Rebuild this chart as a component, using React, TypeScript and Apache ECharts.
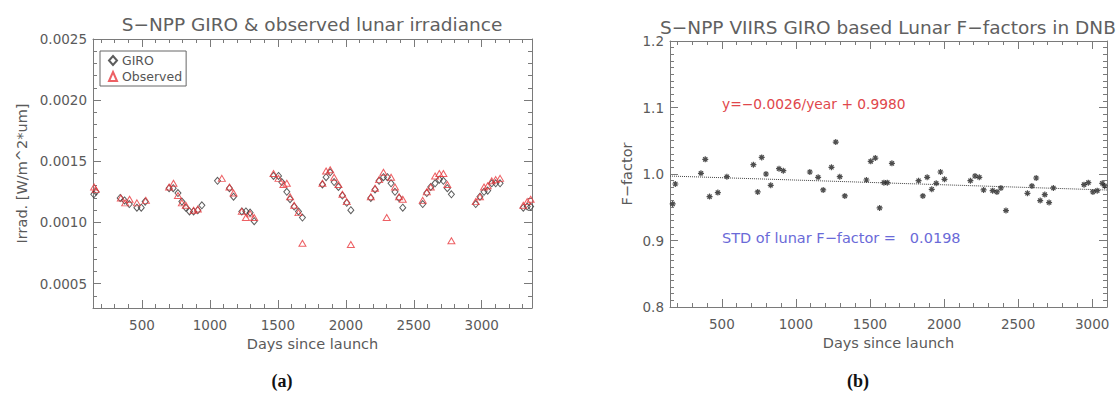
import React, { useEffect, useRef } from 'react';
import * as echarts from 'echarts';

// ---------- Data: panel (a) ----------
const giroDays = [146, 162, 340, 372, 407, 463, 495, 524, 700, 730, 765, 794, 823, 850, 880, 911, 941,
  1056, 1144, 1174, 1235, 1265, 1296, 1326, 1468, 1505, 1529, 1566, 1590, 1620, 1652, 1681,
  1828, 1855, 1885, 1914, 1946, 1975, 2007, 2037, 2184, 2215, 2245, 2277, 2306, 2333, 2362, 2392, 2419,
  2566, 2596, 2625, 2657, 2688, 2718, 2747, 2777, 2956, 2987, 3017, 3044, 3074, 3103, 3135, 3306, 3335, 3360];
const giroIrr = [0.00123, 0.00125, 0.00120, 0.00118, 0.00115, 0.00112, 0.00112, 0.00117, 0.00128, 0.00128, 0.00124, 0.00117, 0.00112, 0.00109, 0.00109, 0.00110, 0.00114,
  0.00134, 0.00128, 0.00121, 0.00109, 0.00109, 0.00108, 0.00101, 0.00138, 0.00138, 0.00133, 0.00125, 0.00119, 0.00113, 0.00109, 0.00104,
  0.00131, 0.00137, 0.00141, 0.00133, 0.00129, 0.00122, 0.00116, 0.00110, 0.00120, 0.00127, 0.00134, 0.00137, 0.00137, 0.00132, 0.00125, 0.00120, 0.00112,
  0.00115, 0.00124, 0.00129, 0.00132, 0.00135, 0.00134, 0.00128, 0.00123, 0.00115, 0.00121, 0.00125, 0.00126, 0.00132, 0.00132, 0.00132, 0.00112, 0.00113, 0.00113];
const obsDays = [148, 160, 345, 377, 409, 463, 529, 700, 732, 765, 794, 823, 880, 911,
  1088, 1144, 1174, 1235, 1265, 1296, 1326, 1468, 1505, 1541, 1566, 1590, 1620, 1652, 1681,
  1828, 1855, 1885, 1914, 1946, 1975, 2007, 2037, 2184, 2215, 2245, 2277, 2301, 2333, 2362, 2392, 2419,
  2566, 2596, 2625, 2657, 2688, 2718, 2747, 2777, 2956, 2987, 3017, 3044, 3074, 3103, 3135, 3306, 3335, 3360];
const obsIrr = [0.00129, 0.00127, 0.00120, 0.00116, 0.00119, 0.00116, 0.00118, 0.00129, 0.00132, 0.00122, 0.00116, 0.00114, 0.00110, 0.00111,
  0.00136, 0.00129, 0.00124, 0.00109, 0.00104, 0.00107, 0.00104, 0.00140, 0.00136, 0.00131, 0.00132, 0.00121, 0.00114, 0.00108, 0.00083,
  0.00132, 0.00142, 0.00143, 0.00137, 0.00131, 0.00123, 0.00117, 0.00082, 0.00121, 0.00128, 0.00135, 0.00141, 0.00104, 0.00137, 0.00129, 0.00121, 0.00119,
  0.00118, 0.00125, 0.00129, 0.00138, 0.00140, 0.00140, 0.00131, 0.00085, 0.00117, 0.00121, 0.00129, 0.00130, 0.00134, 0.00135, 0.00136, 0.00114, 0.00117, 0.00119];

// ---------- Data: panel (b) ----------
const fDays = [168, 186, 359, 388, 417, 473, 534, 713, 742, 769, 798, 830, 886, 915, 1094, 1150, 1184, 1240, 1269, 1296, 1330,
  1476, 1505, 1536, 1565, 1594, 1617, 1648, 1828, 1857, 1886, 1917, 1947, 1976, 2003, 2178, 2209, 2238, 2267, 2328, 2357, 2384, 2418,
  2563, 2593, 2622, 2649, 2680, 2709, 2738, 2945, 2974, 3005, 3034, 3068, 3084];
const fFactor = [0.955, 0.985, 1.001, 1.022, 0.966, 0.972, 0.996, 1.014, 0.973, 1.025, 1.000, 0.983, 1.008, 1.005, 1.003, 0.995, 0.976, 1.010, 1.048, 0.996, 0.967,
  0.991, 1.019, 1.024, 0.949, 0.987, 0.987, 1.016, 0.990, 0.967, 0.995, 0.977, 0.986, 1.003, 0.992, 0.990, 0.997, 0.995, 0.976, 0.975, 0.973, 0.979, 0.945,
  0.971, 0.982, 0.994, 0.960, 0.969, 0.957, 0.979, 0.984, 0.987, 0.973, 0.975, 0.986, 0.982];
const trendSlopePerYear = -0.0026;
const trendIntercept = 0.998;
const stdFFactor = 0.0198;

// ---------- Ticks ----------
const dayTicks = [500, 1000, 1500, 2000, 2500, 3000];
const irrTicks = [0.0005, 0.0010, 0.0015, 0.0020, 0.0025];
const fTicks = [0.8, 0.9, 1.0, 1.1, 1.2];
const dayMinor: number[] = [];
for (let v = 200; v <= 3300; v += 100) if (v % 500 !== 0) dayMinor.push(v);
const irrMinor: number[] = [];
for (let i = 4; i <= 24; i++) if (i % 5 !== 0) irrMinor.push(i / 10000);
const fMinor: number[] = [];
for (let i = 81; i < 120; i++) if (i % 10 !== 0) fMinor.push(i / 100);

const AX = '#7a7a7a';
const TXT = '#5a5a5a';
const FONT = '"DejaVu Sans", sans-serif';

function axisSet(dim: 'x' | 'y', grid: number, min: number, max: number, major: number[], minor: number[],
  fmt: (v: number) => string, name: string, nameGap: number) {
  const base: any = { type: 'value', gridIndex: grid, min, max, splitLine: { show: false } };
  const p1 = dim === 'x' ? 'bottom' : 'left';
  const p2 = dim === 'x' ? 'top' : 'right';
  const line = { show: true, onZero: false, lineStyle: { color: AX, width: 1 } };
  const noLine = { show: false, onZero: false };
  const majT = { show: true, inside: true, length: 8, customValues: major, lineStyle: { color: AX } };
  const minT = { show: true, inside: true, length: 4, customValues: minor, lineStyle: { color: AX } };
  return [
    {
      ...base, position: p1, axisLine: line, axisTick: majT,
      axisLabel: { show: true, customValues: major, formatter: fmt, margin: dim === 'x' ? 10 : 6, color: TXT, fontSize: 13.5, fontFamily: FONT },
      name, nameLocation: 'middle', nameGap,
      nameTextStyle: { color: TXT, fontSize: 14.5, fontFamily: FONT },
    },
    { ...base, position: p1, axisLine: noLine, axisTick: minT, axisLabel: { show: false } },
    { ...base, position: p2, axisLine: line, axisTick: majT, axisLabel: { show: false } },
    { ...base, position: p2, axisLine: noLine, axisTick: minT, axisLabel: { show: false } },
  ];
}

const ASTERISK = 'path://M0,5L10,5M5,0L5,10M1.5,1.5L8.5,8.5M8.5,1.5L1.5,8.5';

export default function App() {
  const ref = useRef<HTMLDivElement>(null);
  useEffect(() => {
    if (!ref.current) return;
    const chart = echarts.init(ref.current, undefined, { renderer: 'svg' });
    const xMinA = 140, xMaxA = 3370, xMinB = 150, xMaxB = 3100;
    const txt = (x: number, y: number, text: string, font: string, fill: string, align = 'center') => ({
      type: 'text', x, y,
      style: { text, font, fill, textAlign: align, textVerticalAlign: 'middle', align, verticalAlign: 'middle' },
    });
    const option: any = {
      animation: false,
      backgroundColor: '#fff',
      grid: [
        { left: 93, top: 39, width: 439, height: 269 },
        { left: 670, top: 41, width: 437, height: 266 },
      ],
      xAxis: [
        ...axisSet('x', 0, xMinA, xMaxA, dayTicks, dayMinor, (v) => String(v), 'Days since launch', 28),
        ...axisSet('x', 1, xMinB, xMaxB, dayTicks, dayMinor, (v) => String(v), 'Days since launch', 26),
      ],
      yAxis: [
        ...axisSet('y', 0, 0.0003, 0.0025, irrTicks, irrMinor, (v) => v.toFixed(4), 'Irrad. [W/m^2*um]', 64),
        ...axisSet('y', 1, 0.8, 1.2, fTicks, fMinor, (v) => v.toFixed(1), 'F\u2212factor', 36),
      ],
      legend: {
        data: ['GIRO', 'Observed'],
        orient: 'vertical', left: 100, top: 51,
        itemGap: 3, itemWidth: 8, itemHeight: 9,
        padding: [3, 4, 3, 8],
        borderColor: '#666', borderWidth: 1,
        textStyle: { color: '#555', fontSize: 12.5, fontFamily: FONT, padding: [0, 0, 0, 0] },
      },
      graphic: [
        txt(312, 24, 'S\u2212NPP GIRO & observed lunar irradiance', `18.5px ${FONT}`, '#606060'),
        txt(888, 27, 'S\u2212NPP VIIRS GIRO based Lunar F\u2212factors in DNB', `18.5px ${FONT}`, '#606060'),
        txt(722, 104, `y=\u2212${Math.abs(trendSlopePerYear).toFixed(4)}/year + ${trendIntercept.toFixed(4)}`, `13.8px ${FONT}`, '#e0474c', 'left'),
        txt(722, 238, `STD of lunar F\u2212factor =   ${stdFFactor.toFixed(4)}`, `14.5px ${FONT}`, '#6a6ad8', 'left'),
        txt(282, 381, '(a)', `bold 18px "Liberation Serif", serif`, '#111'),
        txt(858, 381, '(b)', `bold 18px "Liberation Serif", serif`, '#111'),
      ],
      series: [
        {
          name: 'GIRO', type: 'scatter', xAxisIndex: 0, yAxisIndex: 0,
          symbol: 'diamond', symbolSize: [6, 7],
          itemStyle: { color: 'transparent', borderColor: '#333', borderWidth: 1 },
          data: giroDays.map((d, i) => [d, giroIrr[i]]),
        },
        {
          name: 'Observed', type: 'scatter', xAxisIndex: 0, yAxisIndex: 0,
          symbol: 'triangle', symbolSize: [7, 6],
          itemStyle: { color: 'transparent', borderColor: '#e8383d', borderWidth: 1 },
          data: obsDays.map((d, i) => [d, obsIrr[i]]),
        },
        {
          name: 'trend', type: 'line', xAxisIndex: 4, yAxisIndex: 4,
          symbol: 'none', silent: true,
          lineStyle: { type: 'dotted', color: '#444', width: 1 },
          data: [xMinB, xMaxB].map((d) => [d, trendIntercept + trendSlopePerYear * d / 365]),
        },
        {
          name: 'F-factor', type: 'scatter', xAxisIndex: 4, yAxisIndex: 4,
          symbol: ASTERISK, symbolSize: 6,
          itemStyle: { color: 'transparent', borderColor: '#222', borderWidth: 1.2 },
          data: fDays.map((d, i) => [d, fFactor[i]]),
        },
      ],
    };
    chart.setOption(option);
    return () => chart.dispose();
  }, []);
  return <div ref={ref} style={{ position: 'absolute', left: 0, top: 0, width: 1118, height: 394 }} />;
}
